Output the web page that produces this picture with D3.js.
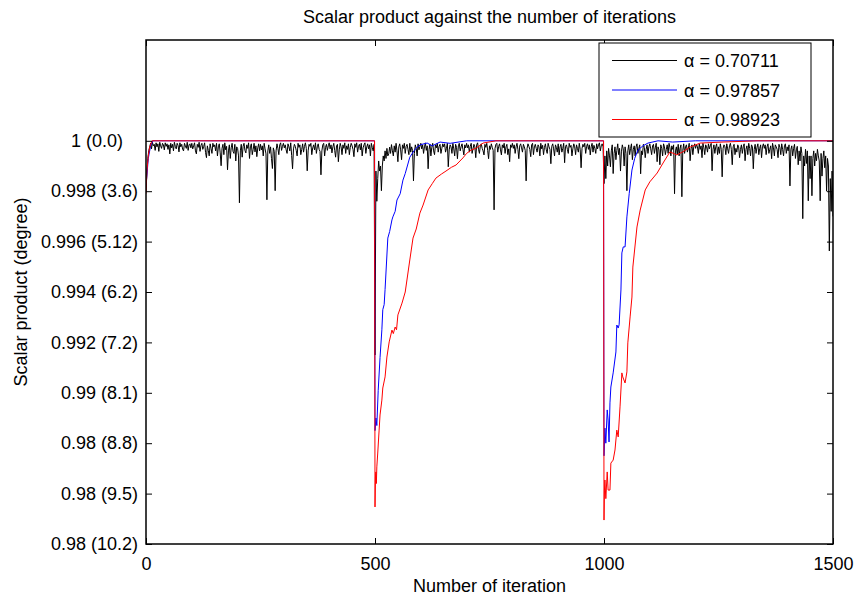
<!DOCTYPE html>
<html>
<head>
<meta charset="utf-8">
<script src="https://cdn.jsdelivr.net/npm/d3@7"></script>
<style>
  body { margin: 0; background: #fff; }
  text { font-family: "Liberation Sans", Arial, Helvetica, sans-serif; fill: #000; }
</style>
</head>
<body>
<svg id="chart" width="855" height="601"></svg>
<script>
// ---- data ----------------------------------------------------------------
const chartTitle = "Scalar product against the number of iterations";
const xLabel = "Number of iteration";
const yLabel = "Scalar product (degree)";

const xTicks = [0, 500, 1000, 1500];
const yTicks = [1, 0.998, 0.996, 0.994, 0.992, 0.990, 0.988, 0.986, 0.984];
const yTickLabels = ["1 (0.0)\u00a0\u00a0\u00a0", "0.998 (3.6)", "0.996 (5.12)", "0.994 (6.2)",
                     "0.992 (7.2)", "0.99 (8.1)", "0.98 (8.8)", "0.98 (9.5)", "0.98 (10.2)"];

const seriesNames = ["\u03b1 = 0.70711", "\u03b1 = 0.97857", "\u03b1 = 0.98923"];
const seriesColors = ["#000000", "#0000ff", "#ff0000"];

// alpha = 0.70711, every 2nd iteration (0 .. 1500), 25 values = 50 iterations per row
const blackStep = 2;
const blackValues = [
  0.99800,0.99880,0.99930,0.99960,0.99975,0.99990,0.99968,0.99994,0.99980,0.99986,0.99962,0.99992,0.99976,0.99988,0.99958,0.99994,0.99980,0.99970,0.99990,0.99984,0.99964,0.99992,0.99978,0.99988,0.99966,
  0.99984,0.99948,0.99990,0.99972,0.99986,0.99960,0.99994,0.99978,0.99968,0.99990,0.99982,0.99956,0.99992,0.99976,0.99986,0.99966,0.99960,0.99990,0.99980,0.99970,0.99994,0.99962,0.99984,0.99988,0.99972,
  0.99990,0.99968,0.99980,0.99992,0.99960,0.99948,0.99986,0.99974,0.99994,0.99958,0.99982,0.99990,0.99966,0.99978,0.99992,0.99954,0.99933,0.99980,0.99962,0.99940,0.99988,0.99970,0.99950,0.99990,0.99976,
  0.99984,0.99960,0.99990,0.99940,0.99976,0.99988,0.99952,0.99901,0.99970,0.99986,0.99945,0.99992,0.99964,0.99978,0.99885,0.99960,0.99984,0.99930,0.99972,0.99990,0.99958,0.99950,0.99986,0.99920,0.99976,
  0.99970,0.99940,0.99754,0.99960,0.99986,0.99935,0.99978,0.99990,0.99962,0.99952,0.99984,0.99970,0.99992,0.99930,0.99976,0.99988,0.99945,0.99966,0.99990,0.99956,0.99980,0.99937,0.99972,0.99988,0.99960,
  0.99986,0.99964,0.99980,0.99940,0.99990,0.99968,0.99948,0.99766,0.99960,0.99984,0.99950,0.99976,0.99930,0.99890,0.99972,0.99958,0.99802,0.99960,0.99988,0.99970,0.99945,0.99984,0.99992,0.99962,0.99978,
  0.99990,0.99972,0.99984,0.99964,0.99950,0.99988,0.99976,0.99960,0.99992,0.99942,0.99889,0.99968,0.99986,0.99978,0.99962,0.99940,0.99990,0.99974,0.99984,0.99945,0.99966,0.99988,0.99955,0.99978,0.99992,
  0.99970,0.99881,0.99960,0.99986,0.99978,0.99990,0.99945,0.99972,0.99984,0.99964,0.99992,0.99950,0.99976,0.99988,0.99966,0.99958,0.99865,0.99960,0.99984,0.99990,0.99940,0.99974,0.99986,0.99962,0.99980,
  0.99992,0.99968,0.99984,0.99952,0.99976,0.99990,0.99962,0.99935,0.99980,0.99986,0.99917,0.99964,0.99990,0.99976,0.99945,0.99984,0.99970,0.99992,0.99950,0.99980,0.99966,0.99988,0.99945,0.99974,0.99990,
  0.99980,0.99966,0.99937,0.99988,0.99974,0.99992,0.99955,0.99978,0.99986,0.99964,0.99990,0.99940,0.99972,0.99984,0.99992,0.99950,0.99976,0.99988,0.99968,0.99984,0.99940,0.99990,0.99974,0.99960,0.99986,
  0.99150,0.99880,0.99760,0.99850,0.99920,0.99880,0.99900,0.99802,0.99900,0.99940,0.99920,0.99960,0.99930,0.99970,0.99940,0.99948,0.99975,0.99950,0.99985,0.99960,0.99940,0.99980,0.99955,0.99990,0.99960,
  0.99917,0.99976,0.99988,0.99964,0.99925,0.99984,0.99970,0.99990,0.99950,0.99978,0.99986,0.99966,0.99945,0.99990,0.99955,0.99976,0.99962,0.99841,0.99950,0.99984,0.99970,0.99940,0.99988,0.99964,0.99978,
  0.99990,0.99968,0.99984,0.99950,0.99976,0.99992,0.99962,0.99980,0.99889,0.99966,0.99986,0.99940,0.99974,0.99990,0.99960,0.99945,0.99984,0.99972,0.99990,0.99955,0.99978,0.99986,0.99950,0.99970,0.99988,
  0.99976,0.99988,0.99955,0.99970,0.99990,0.99897,0.99964,0.99984,0.99976,0.99950,0.99990,0.99968,0.99940,0.99986,0.99974,0.99929,0.99980,0.99990,0.99960,0.99976,0.99988,0.99966,0.99944,0.99984,0.99972,
  0.99990,0.99972,0.99984,0.99955,0.99978,0.99990,0.99950,0.99968,0.99986,0.99976,0.99933,0.99984,0.99992,0.99966,0.99950,0.99980,0.99988,0.99970,0.99960,0.99944,0.99986,0.99974,0.99990,0.99962,0.99929,
  0.99980,0.99966,0.99988,0.99974,0.99962,0.99726,0.99970,0.99986,0.99990,0.99955,0.99978,0.99988,0.99964,0.99944,0.99984,0.99972,0.99990,0.99950,0.99976,0.99986,0.99945,0.99968,0.99917,0.99984,0.99974,
  0.99990,0.99970,0.99984,0.99950,0.99976,0.99990,0.99966,0.99929,0.99980,0.99988,0.99972,0.99955,0.99986,0.99976,0.99962,0.99841,0.99970,0.99988,0.99978,0.99966,0.99937,0.99984,0.99990,0.99945,0.99976,
  0.99986,0.99970,0.99955,0.99984,0.99976,0.99940,0.99990,0.99968,0.99982,0.99945,0.99974,0.99988,0.99964,0.99950,0.99990,0.99976,0.99966,0.99909,0.99978,0.99988,0.99968,0.99940,0.99984,0.99974,0.99955,
  0.99988,0.99944,0.99976,0.99986,0.99955,0.99970,0.99990,0.99913,0.99978,0.99984,0.99966,0.99950,0.99990,0.99974,0.99982,0.99940,0.99968,0.99988,0.99976,0.99945,0.99984,0.99970,0.99955,0.99990,0.99966,
  0.99893,0.99970,0.99986,0.99976,0.99990,0.99950,0.99978,0.99988,0.99966,0.99984,0.99944,0.99976,0.99990,0.99955,0.99982,0.99970,0.99950,0.99988,0.99968,0.99984,0.99992,0.99960,0.99980,0.99988,0.99976,
  0.99830,0.99940,0.99850,0.99960,0.99900,0.99970,0.99940,0.99897,0.99960,0.99984,0.99870,0.99950,0.99976,0.99925,0.99962,0.99988,0.99945,0.99970,0.99880,0.99956,0.99984,0.99968,0.99900,0.99976,0.99950,
  0.99802,0.99960,0.99984,0.99945,0.99970,0.99988,0.99925,0.99966,0.99980,0.99940,0.99976,0.99988,0.99950,0.99970,0.99984,0.99869,0.99960,0.99945,0.99986,0.99974,0.99933,0.99966,0.99984,0.99950,0.99976,
  0.99988,0.99968,0.99945,0.99980,0.99986,0.99950,0.99972,0.99990,0.99917,0.99976,0.99964,0.99905,0.99984,0.99970,0.99940,0.99988,0.99976,0.99945,0.99966,0.99984,0.99950,0.99990,0.99972,0.99940,0.99980,
  0.99966,0.99984,0.99790,0.99960,0.99976,0.99945,0.99986,0.99940,0.99970,0.99984,0.99778,0.99962,0.99988,0.99950,0.99976,0.99984,0.99955,0.99970,0.99990,0.99921,0.99968,0.99984,0.99945,0.99976,0.99988,
  0.99970,0.99986,0.99976,0.99950,0.99988,0.99966,0.99980,0.99933,0.99990,0.99972,0.99945,0.99984,0.99976,0.99955,0.99988,0.99968,0.99980,0.99990,0.99881,0.99966,0.99984,0.99950,0.99976,0.99988,0.99945,
  0.99976,0.99950,0.99988,0.99966,0.99857,0.99970,0.99984,0.99976,0.99945,0.99988,0.99968,0.99950,0.99980,0.99990,0.99966,0.99905,0.99976,0.99986,0.99945,0.99970,0.99955,0.99984,0.99976,0.99933,0.99966,
  0.99984,0.99950,0.99976,0.99988,0.99921,0.99966,0.99980,0.99945,0.99990,0.99970,0.99940,0.99984,0.99976,0.99889,0.99966,0.99986,0.99950,0.99974,0.99988,0.99945,0.99970,0.99984,0.99933,0.99976,0.99988,
  0.99970,0.99984,0.99945,0.99976,0.99988,0.99950,0.99966,0.99980,0.99929,0.99990,0.99972,0.99940,0.99984,0.99976,0.99966,0.99933,0.99986,0.99974,0.99945,0.99988,0.99966,0.99940,0.99980,0.99988,0.99950,
  0.99976,0.99960,0.99984,0.99821,0.99966,0.99980,0.99940,0.99970,0.99986,0.99930,0.99964,0.99978,0.99905,0.99960,0.99920,0.99976,0.99950,0.99691,0.99940,0.99900,0.99966,0.99910,0.99960,0.99762,0.99940,
  0.99850,0.99940,0.99782,0.99930,0.99960,0.99900,0.99950,0.99921,0.99966,0.99940,0.99920,0.99762,0.99950,0.99860,0.99930,0.99960,0.99893,0.99940,0.99800,0.99930,0.99900,0.99563,0.99850,0.99720,0.99880,
  0.99700
];

// alpha = 0.97857
const blueIter = [0, 5, 10, 15, 499,
  500, 502, 504, 507, 511, 515, 517, 520, 522, 528, 532, 537, 539, 544, 548, 555, 561, 566,
  576, 585, 592, 600, 614, 625, 642, 664, 700, 999,
  1000, 1002, 1004, 1007, 1009, 1011, 1013, 1015, 1020, 1026, 1028, 1031, 1033, 1037, 1039,
  1042, 1046, 1050, 1055, 1061, 1067, 1074, 1085, 1096, 1118, 1150, 1200, 1500];
const blueVal = [0.99820, 0.99930, 0.99980, 1.00000, 1.00000,
  0.98850, 0.98900, 0.98870, 0.99010, 0.99140, 0.99250, 0.99330, 0.99350, 0.99410, 0.99614,
  0.99640, 0.99686, 0.99698, 0.99720, 0.99765, 0.99790, 0.99844, 0.99870,
  0.99935, 0.99960, 0.99975, 0.99985, 0.99991, 0.99980, 0.99995, 0.99990, 1.00000, 1.00000,
  0.98750, 0.98860, 0.98800, 0.98932, 0.98892, 0.98805, 0.98960, 0.99023, 0.99079, 0.99162,
  0.99269, 0.99257, 0.99270, 0.99408, 0.99555,
  0.99579, 0.99579, 0.99698, 0.99790, 0.99884, 0.99930, 0.99963, 0.99980, 0.99991, 1.00000,
  0.99995, 1.00000, 1.00000];

// alpha = 0.98923
const redIter = [0, 2, 5, 8, 13, 499,
  500, 501, 502, 503, 504, 506, 509, 511, 515, 517, 522, 526, 531, 537, 540, 544, 547, 550,
  559, 566, 576, 583, 590, 598, 605, 616, 625, 633, 645, 655, 667, 677, 692, 700, 710, 721,
  736, 764, 999,
  1000, 1001, 1002, 1004, 1007, 1009, 1013, 1015, 1020, 1024, 1028, 1031, 1035, 1039, 1041,
  1046, 1050, 1052, 1057, 1061, 1063, 1072, 1079, 1090, 1100, 1116, 1129, 1144, 1159, 1172,
  1188, 1210, 1260, 1334, 1500];
const redVal = [0.99790, 0.99880, 0.99940, 0.99975, 1.00000, 1.00000,
  0.98547, 0.98666, 0.98686, 0.98640, 0.98706, 0.98761, 0.98852, 0.98912, 0.98971, 0.99019,
  0.99063, 0.99142, 0.99202, 0.99249, 0.99235, 0.99261, 0.99250, 0.99309,
  0.99356, 0.99400, 0.99527, 0.99614, 0.99650, 0.99713, 0.99745, 0.99805, 0.99830, 0.99852,
  0.99868, 0.99880, 0.99895, 0.99904, 0.99932, 0.99950, 0.99963, 0.99971,
  0.99991, 1.00000, 1.00000,
  0.98495, 0.98614, 0.98654, 0.98580, 0.98686, 0.98614, 0.98614, 0.98721, 0.98733, 0.98773,
  0.98852, 0.98825, 0.98944, 0.99079, 0.99063,
  0.99039, 0.99083, 0.99198, 0.99301, 0.99380, 0.99499, 0.99658, 0.99725, 0.99805, 0.99837,
  0.99872, 0.99912, 0.99956, 0.99944, 0.99956,
  0.99975, 0.99991, 0.99995, 1.00000, 1.00000];

// ---- layout --------------------------------------------------------------
const plot = { left: 146, right: 833, top: 40, bottom: 544 };
const fontSize = 18;

const svg = d3.select("#chart");
const x = d3.scaleLinear().domain([0, 1500]).range([plot.left, plot.right]);
const y = d3.scaleLinear().domain([0.984, 1.004]).range([plot.bottom, plot.top]);

svg.append("defs").append("clipPath").attr("id", "plotClip")
  .append("rect")
  .attr("x", plot.left).attr("y", plot.top)
  .attr("width", plot.right - plot.left).attr("height", plot.bottom - plot.top);

// ---- series --------------------------------------------------------------
const blackData = blackValues.map((v, i) => [i * blackStep, v]);
const blueData = blueIter.map((it, i) => [it, blueVal[i]]);
const redData = redIter.map((it, i) => [it, redVal[i]]);
const allSeries = [blackData, blueData, redData];

const line = d3.line().x(d => x(d[0])).y(d => y(d[1]));
const lines = svg.append("g").attr("clip-path", "url(#plotClip)");
allSeries.forEach((data, i) => {
  lines.append("path")
    .datum(data)
    .attr("d", line)
    .attr("fill", "none")
    .attr("stroke", seriesColors[i])
    .attr("stroke-width", 1)
    .attr("stroke-linejoin", "round");
});

// ---- axes (MATLAB style: ticks inside, mirrored on all four sides) -------
const tickLen = 6;
const styleAxis = g => {
  g.select(".domain").remove();
  g.selectAll(".tick line").attr("stroke", "#000");
  g.selectAll(".tick text").attr("font-size", fontSize)
    .style("font-family", '"Liberation Sans", Arial, Helvetica, sans-serif');
};

svg.append("g")
  .attr("transform", `translate(0,${plot.bottom})`)
  .call(d3.axisBottom(x).tickValues(xTicks).tickFormat(d3.format("d"))
    .tickSize(-tickLen).tickPadding(13))
  .call(styleAxis);

svg.append("g")
  .attr("transform", `translate(0,${plot.top})`)
  .call(d3.axisTop(x).tickValues(xTicks).tickFormat("").tickSize(-tickLen))
  .call(styleAxis);

svg.append("g")
  .attr("transform", `translate(${plot.left},0)`)
  .call(d3.axisLeft(y).tickValues(yTicks).tickFormat((d, i) => yTickLabels[i])
    .tickSize(-tickLen).tickPadding(8))
  .call(styleAxis);

svg.append("g")
  .attr("transform", `translate(${plot.right},0)`)
  .call(d3.axisRight(y).tickValues(yTicks).tickFormat("").tickSize(-tickLen))
  .call(styleAxis);

// axes box
svg.append("rect")
  .attr("x", plot.left).attr("y", plot.top)
  .attr("width", plot.right - plot.left).attr("height", plot.bottom - plot.top)
  .attr("fill", "none").attr("stroke", "#000").attr("stroke-width", 1.5);

// ---- titles --------------------------------------------------------------
svg.append("text")
  .attr("x", (plot.left + plot.right) / 2).attr("y", 23)
  .attr("text-anchor", "middle").attr("font-size", fontSize)
  .text(chartTitle);

svg.append("text")
  .attr("x", (plot.left + plot.right) / 2).attr("y", 592)
  .attr("text-anchor", "middle").attr("font-size", fontSize)
  .text(xLabel);

svg.append("text")
  .attr("transform", `translate(27,${(plot.top + plot.bottom) / 2}) rotate(-90)`)
  .attr("text-anchor", "middle").attr("font-size", fontSize)
  .text(yLabel);

// ---- legend --------------------------------------------------------------
const legend = svg.append("g");
legend.append("rect")
  .attr("x", 599).attr("y", 43).attr("width", 212).attr("height", 94)
  .attr("fill", "#fff").attr("stroke", "#000").attr("stroke-width", 1);
seriesNames.forEach((name, i) => {
  const ly = 60.5 + i * 29.5;
  legend.append("line")
    .attr("x1", 612).attr("x2", 677).attr("y1", ly).attr("y2", ly)
    .attr("stroke", seriesColors[i]).attr("stroke-width", 1);
  legend.append("text")
    .attr("x", 684).attr("y", ly + 6.5)
    .attr("font-size", fontSize)
    .text(name);
});
</script>
</body>
</html>
